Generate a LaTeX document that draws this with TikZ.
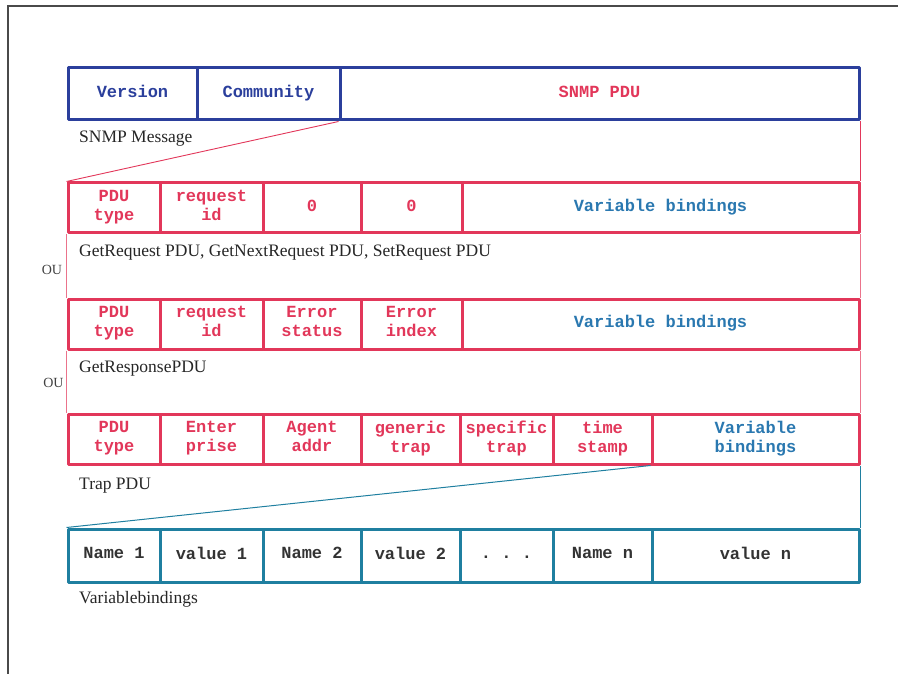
\documentclass[tikz,border=0pt]{standalone}
\usepackage{fontspec}
\setmainfont{Liberation Serif}
\setmonofont{Liberation Mono}
\definecolor{msgblue}{HTML}{2B3F9C}
\definecolor{pdured}{HTML}{E2375A}
\definecolor{vbteal}{HTML}{1F7FA0}
\definecolor{vbtext}{HTML}{2A78B0}
\definecolor{frame}{HTML}{4A4A4A}
% fixed line box so every cell line sits on the same baseline
\newcommand\cs{\rule[-4.5pt]{0pt}{14.5pt}}
\begin{document}
\begin{tikzpicture}[x=1pt,y=-1pt,
  cell/.style={draw,rectangle,line width=3pt,line join=round,inner sep=0pt,
    align=center,font=\ttfamily\bfseries\fontsize{17}{19}\selectfont},
  blucell/.style={cell,draw=msgblue,minimum height=52pt},
  redcell/.style={cell,draw=pdured,text=pdured,minimum height=50pt},
  tealcell/.style={cell,draw=vbteal,text=black!80,minimum height=53pt},
  caption/.style={anchor=base west,inner sep=0pt,font=\fontsize{17.5}{20}\selectfont,text=black!85},
  orlabel/.style={anchor=base,inner sep=0pt,font=\fontsize{14}{16}\selectfont,text=black!75},
  redlink/.style={draw=pdured,line width=0.9pt},
  thinred/.style={draw=pdured!70,line width=0.5pt},
  teallink/.style={draw=vbteal,line width=1pt}]
\useasboundingbox (0,0) rectangle (898,674);
% page frame
\draw[frame,line width=1.6pt] (8,690) -- (8,6) -- (910,6);

% SNMP message
\node[blucell,text=msgblue,minimum width=129pt] (ver) at (132.5,94) {\cs Version};
\node[blucell,text=msgblue,minimum width=143pt] (com) at (268.5,94) {\cs Community};
\node[blucell,text=pdured,minimum width=519pt] (pdu) at (599.5,94) {\cs SNMP PDU};
\node[caption] (lmsg) at (79,142.5) {SNMP Message};

% GetRequest / GetNextRequest / SetRequest PDU
\node[redcell,minimum width=92pt]  (a1) at (114,208)   {\cs PDU\\\cs type};
\node[redcell,minimum width=103pt] (a2) at (211.5,208) {\cs request\\\cs id};
\node[redcell,minimum width=98pt]  (a3) at (312,208)   {\cs 0};
\node[redcell,minimum width=101pt] (a4) at (411.5,208) {\cs 0};
\node[redcell,text=vbtext,minimum width=397pt] (a5) at (660.5,208) {\cs Variable bindings};
\node[caption] (lreq) at (79,256.5) {GetRequest PDU, GetNextRequest PDU, SetRequest PDU};
\node[orlabel] (or1) at (52,274.5) {OU};

% GetResponse PDU
\node[redcell,minimum width=92pt]  (b1) at (114,324)   {\cs PDU\\\cs type};
\node[redcell,minimum width=103pt] (b2) at (211.5,324) {\cs request\\\cs id};
\node[redcell,minimum width=98pt]  (b3) at (312,324)   {\cs Error\\\cs status};
\node[redcell,minimum width=101pt] (b4) at (411.5,324) {\cs Error\\\cs index};
\node[redcell,text=vbtext,minimum width=397pt] (b5) at (660.5,324) {\cs Variable bindings};
\node[caption] (lresp) at (79,372) {GetResponsePDU};
\node[orlabel] (or2) at (53.5,387) {OU};

% Trap PDU
\node[redcell,minimum width=92pt]  (c1) at (114,439)   {\cs PDU\\\cs type};
\node[redcell,minimum width=103pt] (c2) at (211.5,439) {\cs Enter\\\cs prise};
\node[redcell,minimum width=98pt]  (c3) at (312,439)   {\cs Agent\\\cs addr};
\node[redcell,minimum width=99pt]  (c4) at (410.5,439) {\cs generic\\\cs trap};
\node[redcell,minimum width=93pt]  (c5) at (506.5,439) {\cs specific\\\cs trap};
\node[redcell,minimum width=99pt]  (c6) at (602.5,439) {\cs time\\\cs stamp};
\node[redcell,text=vbtext,minimum width=207pt] (c7) at (755.5,439) {\cs Variable\\\cs bindings};
\node[caption] (ltrap) at (79,489) {Trap PDU};

% Variable bindings
\node[tealcell,minimum width=92pt]  (d1) at (114,555.5)   {\cs Name 1};
\node[tealcell,minimum width=103pt] (d2) at (211.5,555.5) {\cs value 1};
\node[tealcell,minimum width=98pt]  (d3) at (312,555.5)   {\cs Name 2};
\node[tealcell,minimum width=99pt]  (d4) at (410.5,555.5) {\cs value 2};
\node[tealcell,minimum width=93pt]  (d5) at (506.5,555.5) {\cs .\ .\ .};
\node[tealcell,minimum width=99pt]  (d6) at (602.5,555.5) {\cs Name n};
\node[tealcell,minimum width=207pt] (d7) at (755.5,555.5) {\cs value n};
\node[caption] (lvb) at (79,603) {Variablebindings};

% expansion lines
\draw[redlink] (pdu.south west) -- (a1.north west);
\draw[redlink] (pdu.south east) -- (a5.north east);
\draw[thinred] (a1.south west) -- (b1.north west);
\draw[thinred] (b1.south west) -- (c1.north west);
\draw[thinred] (a5.south east) -- (b5.north east);
\draw[thinred] (b5.south east) -- (c7.north east);
\draw[teallink] (c7.south west) -- (d1.north west);
\draw[teallink] (c7.south east) -- (d7.north east);
\end{tikzpicture}
\end{document}
